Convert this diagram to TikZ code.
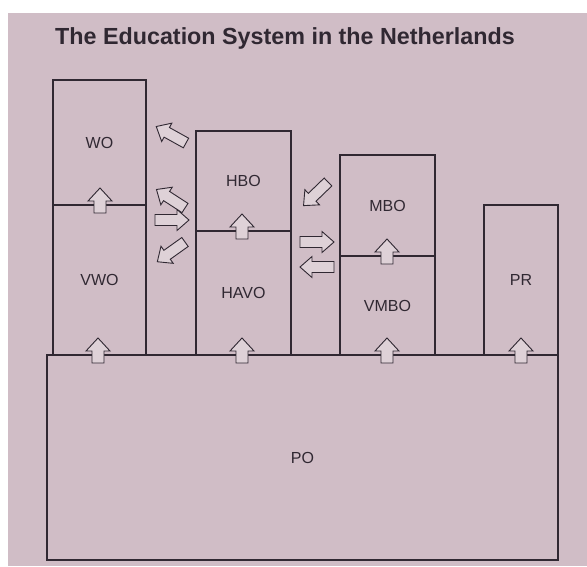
\documentclass[tikz,border=0pt]{standalone}
\usepackage{fontspec}
\setmainfont{Liberation Sans}
\definecolor{paper}{RGB}{208,189,198}
\definecolor{ink}{RGB}{48,40,50}
\begin{document}
\begin{tikzpicture}[x=1pt,y=-1pt,
  box/.style={draw=ink, line width=1.3pt, inner sep=0pt, text=ink, font=\fontsize{16}{17}\selectfont},
  blk/.style={draw=ink, fill=paper!70!white, line width=0.9pt, line join=miter},
  upblk/.pic={\draw[blk] (0,-6) -- (12,-6) -- (12,-12) -- (25,0) -- (12,12) -- (12,6) -- (0,6) -- cycle;},
  sideblk/.pic={\draw[blk] (0,-5.5) -- (22,-5.5) -- (22,-10.5) -- (34,0) -- (22,10.5) -- (22,5.5) -- (0,5.5) -- cycle;}]
\useasboundingbox (0,0) rectangle (587,566);
\fill[white] (0,0) rectangle (587,566);
\fill[paper] (8,13) rectangle (587,566);
% title
\node[anchor=base, text=ink, font=\fontsize{23.3}{25}\selectfont\bfseries] (title) at (285,44) {The Education System in the Netherlands};
% base
\node[box, minimum width=511, minimum height=205] (po) at (302.5,457.5) {PO};
% VWO column
\node[box, minimum width=93, minimum height=125] (wo) at (99.5,142.5) {WO};
\node[box, minimum width=93, minimum height=150] (vwo) at (99.5,280) {VWO};
% HAVO column
\node[box, minimum width=95, minimum height=100] (hbo) at (243.5,181) {HBO};
\node[box, minimum width=95, minimum height=124] (havo) at (243.5,293) {HAVO};
% VMBO column
\node[box, minimum width=95, minimum height=101] (mbo) at (387.5,205.5) {MBO};
\node[box, minimum width=95, minimum height=99] (vmbo) at (387.5,305.5) {VMBO};
% PR
\node[box, minimum width=74, minimum height=150] (pr) at (521,280) {PR};
% up arrows
\pic[rotate=90] at (100,213) {upblk};
\pic[rotate=90] at (242,239) {upblk};
\pic[rotate=90] at (387,264) {upblk};
\pic[rotate=90] at (98,363) {upblk};
\pic[rotate=90] at (242,363) {upblk};
\pic[rotate=90] at (387,363) {upblk};
\pic[rotate=90] at (521,363) {upblk};
% side arrows
\pic[rotate=151] at (186,143) {sideblk};
\pic[rotate=147] at (185,208) {sideblk};
\pic[rotate=0] at (155,220) {sideblk};
\pic[rotate=215.5] at (185,242) {sideblk};
\pic[rotate=224] at (328,182) {sideblk};
\pic[rotate=0] at (300,242) {sideblk};
\pic[rotate=180] at (334,267) {sideblk};
\end{tikzpicture}
\end{document}
